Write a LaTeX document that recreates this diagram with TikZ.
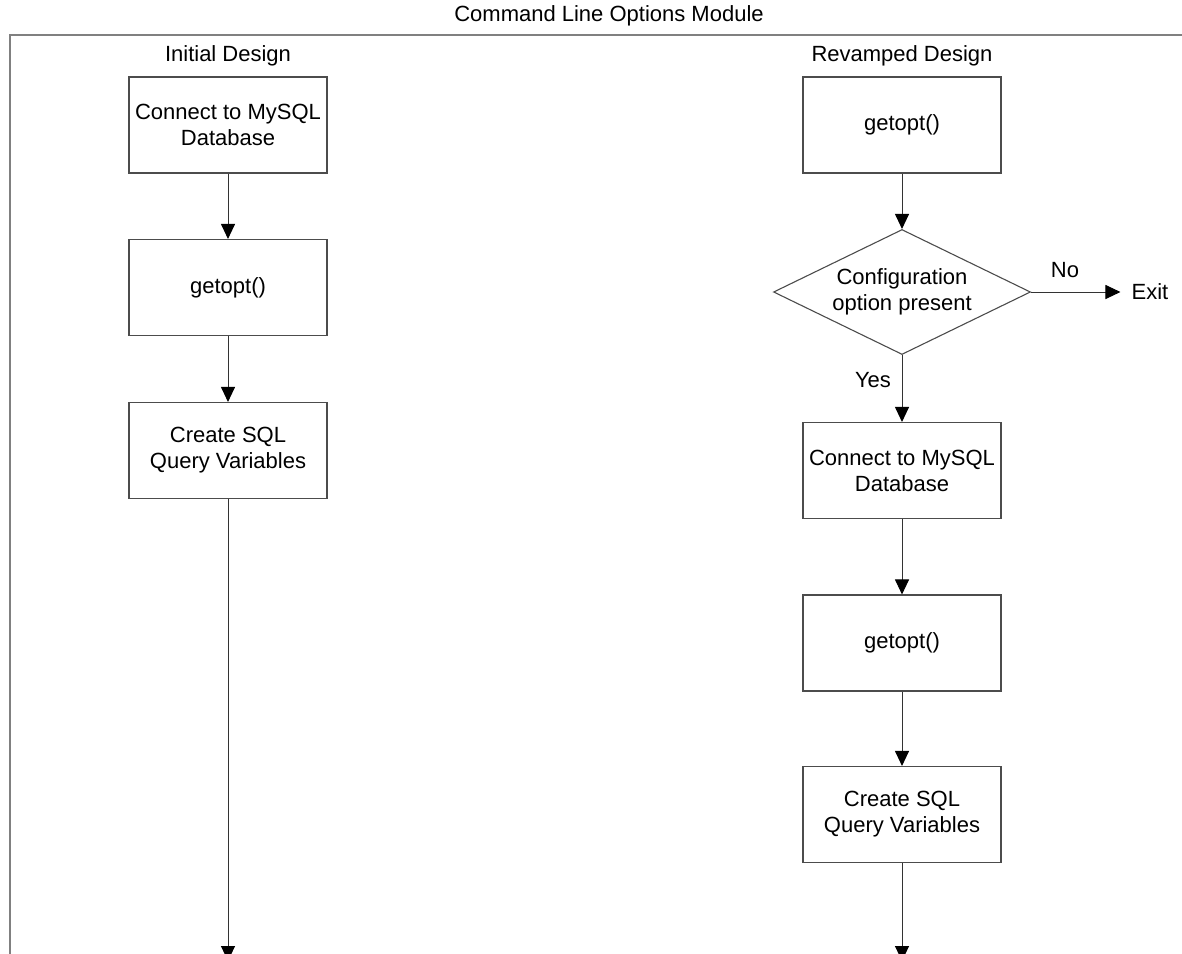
\documentclass[tikz,border=0pt]{standalone}
\usepackage{fontspec}
\setmainfont{Liberation Sans}
\usetikzlibrary{shapes.geometric,arrows.meta}
\begin{document}
\begin{tikzpicture}[x=1pt,y=-1pt,
  every node/.style={font=\fontsize{22}{26}\selectfont},
  procbox/.style={draw=black!70, line width=1.1pt, minimum width=198pt, minimum height=96pt, align=center, inner sep=0pt},
  decbox/.style={draw=black!70, line width=1.1pt, shape=diamond, aspect=2.056, minimum width=257pt, minimum height=125pt, align=center, inner sep=0pt},
  flow/.style={draw=black!80, line width=1pt, -{Triangle[length=15pt,width=14pt,color=black]}},
  lbl/.style={inner sep=0pt}
]
\useasboundingbox (0,0) rectangle (1182,953);
\clip (0,0) rectangle (1182,953);
% frame
\draw[black!50, line width=2pt] (9.5,960) -- (9.5,35) -- (1190,35);
\node[lbl] (title) at (609,16) {Command Line Options Module};
\node[lbl] (initial) at (228,56) {Initial Design};
\node[lbl] (revamped) at (902,56) {Revamped Design};
% left column
\node[procbox] (L1) at (228,125) {Connect to MySQL\\Database};
\node[procbox] (L2) at (228,287.5) {getopt()};
\node[procbox] (L3) at (228,450.5) {Create SQL\\Query Variables};
\coordinate (Lend) at (228,961);
% right column
\node[procbox] (R1) at (902,125) {getopt()};
\node[decbox] (D) at (902,292) {Configuration\\option present};
\node[procbox] (R2) at (902,470.5) {Connect to MySQL\\Database};
\node[procbox] (R3) at (902,643) {getopt()};
\node[procbox] (R4) at (902,814.5) {Create SQL\\Query Variables};
\coordinate (Rend) at (902,961);
\node[inner ysep=0pt, inner xsep=11pt] (exit) at (1150,292) {Exit};
\node[lbl] (no) at (1065,270) {No};
\node[lbl] (yes) at (873,380) {Yes};
% connectors
\draw[flow] (L1.south) -- (L2.north);
\draw[flow] (L2.south) -- (L3.north);
\draw[flow] (L3.south) -- (Lend);
\draw[flow] (R1.south) -- (D.north);
\draw[flow] (D.east) -- (exit.west);
\draw[flow] (D.south) -- (R2.north);
\draw[flow] (R2.south) -- (R3.north);
\draw[flow] (R3.south) -- (R4.north);
\draw[flow] (R4.south) -- (Rend);
\end{tikzpicture}
\end{document}
